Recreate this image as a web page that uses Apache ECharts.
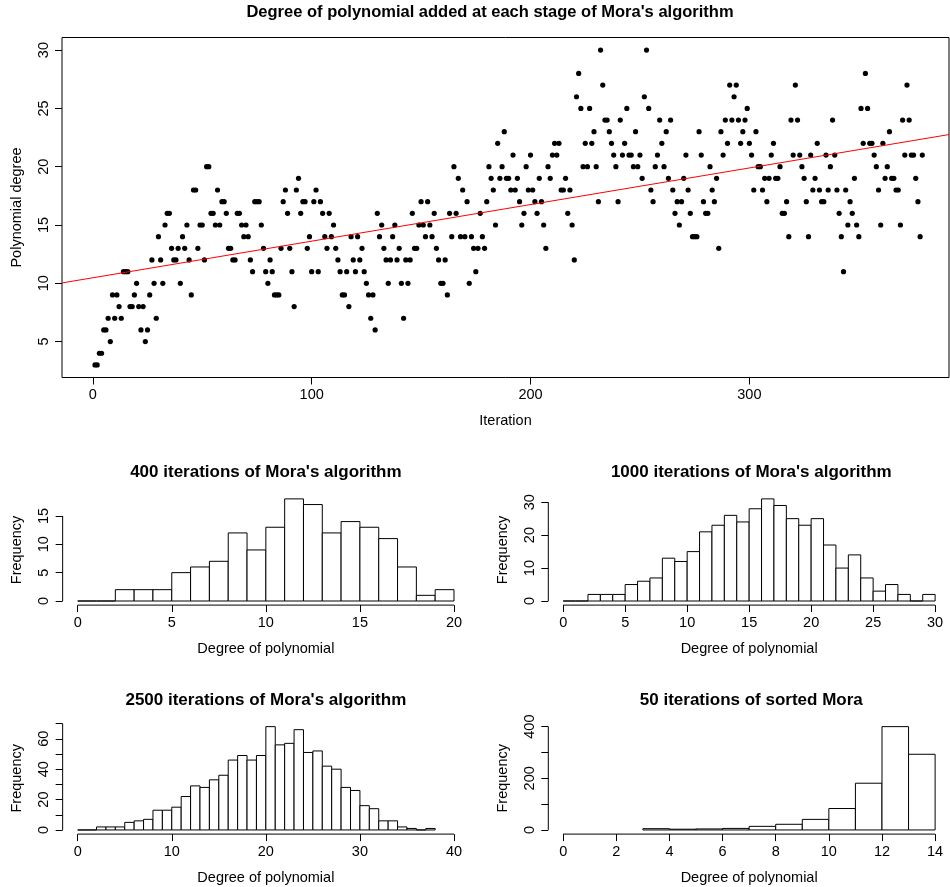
<!DOCTYPE html>
<html>
<head>
<meta charset="utf-8">
<script src="https://cdn.jsdelivr.net/npm/echarts@6/dist/echarts.min.js"></script>
<style>
  html, body { margin: 0; padding: 0; background: #fff; }
  #chart { width: 950px; height: 887px; }
</style>
</head>
<body>
<div id="chart"></div>
<script>
// degree of the polynomial added at iteration 1, 2, 3, ...
var degrees = [
  3,3,4,4,6,6,7,5,9,7,
  9,8,7,11,11,11,8,8,9,10,
  8,6,8,5,6,9,12,10,7,14,
  12,10,15,16,16,13,12,12,13,10,
  14,13,15,12,9,18,18,13,15,15,
  12,20,20,16,16,15,18,15,17,17,
  16,13,13,12,12,16,16,15,14,15,
  14,12,11,17,17,17,15,13,11,10,
  12,11,9,9,9,13,17,18,16,13,
  11,8,18,19,16,17,17,13,14,11,
  17,18,11,17,16,14,13,16,14,15,
  13,12,11,9,9,11,8,14,12,11,
  14,12,13,11,10,9,7,9,6,16,
  14,15,13,12,10,12,14,15,12,13,
  10,7,12,10,12,16,13,13,15,17,
  15,14,17,15,14,16,13,12,10,10,
  12,9,16,14,20,16,19,14,18,14,
  17,10,14,13,11,13,16,14,13,17,
  20,19,18,15,22,19,20,23,19,19,
  18,21,18,19,17,15,16,20,18,21,
  18,17,16,19,17,15,13,20,19,21,
  22,21,22,18,18,19,16,18,15,12,
  26,28,25,20,22,20,25,22,23,20,
  17,30,27,24,24,23,22,21,20,17,
  24,21,22,25,21,21,20,23,20,21,
  19,26,30,25,18,17,20,21,24,22,
  20,23,19,24,18,16,17,15,17,19,
  21,18,16,14,14,14,23,21,17,16,
  16,20,18,17,19,13,23,21,24,22,
  27,24,26,27,24,22,23,24,25,22,
  21,18,23,20,20,18,19,17,19,21,
  22,19,19,20,16,16,17,14,24,21,
  27,24,21,20,19,17,14,21,18,19,
  22,18,17,17,21,18,20,24,21,18,
  16,14,11,18,15,17,16,19,15,14,
  25,22,28,25,22,22,21,20,18,15,
  22,19,20,23,19,19,18,18,15,24,
  21,27,24,21,21,19,17,14,21
];
var mainXTicks = [0, 100, 200, 300];
var mainYTicks = [5, 10, 15, 20, 25, 30];

// histogram counts, unit-width bins starting at the given break
var hist400Start = 0;
var hist400Counts = [0,0,2,2,2,5,6,7,12,9,13,18,17,12,14,13,11,6,1,2];
var hist1000Start = 0;
var hist1000Counts = [0,0,2,2,2,5,6,7,13,12,15,21,23,26,24,28,31,29,25,23,25,17,10,14,7,3,5,2,0,2];
var hist2500Start = 0;
var hist2500Counts = [0,0,2,2,2,5,6,7,13,13,15,22,29,28,33,36,46,49,46,49,68,56,57,66,51,52,42,40,28,26,16,14,6,6,2,1,0,1];
var sortedStart = 3;
var sortedCounts = [5,3,4,6,14,22,41,83,181,400,293];

var hist400XTicks = [0, 5, 10, 15, 20];
var hist400YTicks = [0, 5, 10, 15];
var hist1000XTicks = [0, 5, 10, 15, 20, 25, 30];
var hist1000YTicks = [0, 10, 20, 30];
var hist2500XTicks = [0, 10, 20, 30, 40];
var hist2500YTicks = [0, 10, 20, 30, 40, 50, 60, 70];
var hist2500YLabels = [0, 20, 40, 60];
var sortedXTicks = [0, 2, 4, 6, 8, 10, 12, 14];
var sortedYTicks = [0, 100, 200, 300, 400];
var sortedYLabels = [0, 200, 400];

var FONT = 'Liberation Sans';
var LABEL_SIZE = 14.5;

// least squares line, like abline(lm(degree ~ iteration))
function fitLine(ys) {
  var n = ys.length, sx = 0, sy = 0, sxx = 0, sxy = 0;
  for (var i = 0; i < n; i++) {
    var x = i + 1;
    sx += x; sy += ys[i]; sxx += x * x; sxy += x * ys[i];
  }
  var b = (n * sxy - sx * sy) / (n * sxx - sx * sx);
  return { a: (sy - b * sx) / n, b: b };
}

function binData(start, counts) {
  return counts.map(function (c, i) { return [start + i, start + i + 1, c]; });
}

function renderBar(params, api) {
  var p0 = api.coord([api.value(0), 0]);
  var p1 = api.coord([api.value(1), api.value(2)]);
  return {
    type: 'rect',
    shape: { x: p0[0], y: p1[1], width: p1[0] - p0[0], height: p0[1] - p1[1] },
    style: { fill: '#fff', stroke: '#000', lineWidth: 1 }
  };
}

var chart = echarts.init(document.getElementById('chart'));

var panels = [
  { title: "400 iterations of Mora's algorithm", left: 62.65, width: 406.4, top: 494.8, height: 110.3,
    xMin: -0.8, xMax: 20.8, yMin: -0.72, yMax: 18.72,
    xTicks: hist400XTicks, yTicks: hist400YTicks, yLabels: hist400YTicks, start: hist400Start, counts: hist400Counts },
  { title: "1000 iterations of Mora's algorithm", left: 548.3, width: 406, top: 494.8, height: 110.3,
    xMin: -1.2, xMax: 31.2, yMin: -1.24, yMax: 32.24,
    xTicks: hist1000XTicks, yTicks: hist1000YTicks, yLabels: hist1000YTicks, start: hist1000Start, counts: hist1000Counts },
  { title: "2500 iterations of Mora's algorithm", left: 62.65, width: 406.4, top: 722.5, height: 111.6,
    xMin: -1.6, xMax: 41.6, yMin: -2.72, yMax: 70.72,
    xTicks: hist2500XTicks, yTicks: hist2500YTicks, yLabels: hist2500YLabels, start: hist2500Start, counts: hist2500Counts },
  { title: "50 iterations of sorted Mora", left: 548.3, width: 406, top: 722.5, height: 111.6,
    xMin: -0.56, xMax: 14.56, yMin: -16, yMax: 416,
    xTicks: sortedXTicks, yTicks: sortedYTicks, yLabels: sortedYLabels, start: sortedStart, counts: sortedCounts }
];

var labelStyle = { color: '#000', fontFamily: FONT, fontSize: LABEL_SIZE };
var tickStyle = { color: '#000', width: 1 };

var mainXMin = -14.07, mainXMax = 391.2;
var fit = fitLine(degrees);

var titles = [{
  text: "Degree of polynomial added at each stage of Mora's algorithm",
  left: 490, top: 4, textAlign: 'center', padding: 0,
  textStyle: { color: '#000', fontFamily: FONT, fontSize: 16.5, fontWeight: 'bold' }
}];
var grids = [{ left: 62, top: 37.5, width: 887, height: 340, show: true, borderColor: '#000', borderWidth: 1, backgroundColor: 'transparent' }];
var xAxes = [{
  gridIndex: 0, type: 'value', min: mainXMin, max: mainXMax,
  axisLine: { show: false, onZero: false }, splitLine: { show: false },
  axisTick: { customValues: mainXTicks, length: 7, lineStyle: tickStyle },
  axisLabel: Object.assign({ customValues: mainXTicks, margin: 10 }, labelStyle),
  name: 'Iteration', nameLocation: 'middle', nameGap: 36, nameTextStyle: labelStyle
}];
var yAxes = [{
  gridIndex: 0, type: 'value', min: 1.92, max: 31.08,
  axisLine: { show: false, onZero: false }, splitLine: { show: false },
  axisTick: { customValues: mainYTicks, length: 7, lineStyle: tickStyle },
  axisLabel: Object.assign({ customValues: mainYTicks, margin: 11, rotate: 90 }, labelStyle),
  name: 'Polynomial degree', nameLocation: 'middle', nameGap: 38, nameTextStyle: labelStyle
}];
var series = [
  {
    type: 'scatter', xAxisIndex: 0, yAxisIndex: 0, symbolSize: 5.2, silent: true,
    itemStyle: { color: '#000', opacity: 1 },
    data: degrees.map(function (d, i) { return [i + 1, d]; })
  },
  {
    type: 'line', xAxisIndex: 0, yAxisIndex: 0, symbol: 'none', silent: true,
    lineStyle: { color: '#ff0000', width: 1 },
    data: [[mainXMin, fit.a + fit.b * mainXMin], [mainXMax, fit.a + fit.b * mainXMax]]
  }
];

panels.forEach(function (p, k) {
  var g = k + 1;
  titles.push({
    text: p.title, left: p.left + p.width / 2, top: p.top - 30.5, textAlign: 'center', padding: 0,
    textStyle: { color: '#000', fontFamily: FONT, fontSize: 17, fontWeight: 'bold' }
  });
  grids.push({ left: p.left, top: p.top, width: p.width, height: p.height });
  xAxes.push({
    gridIndex: g, type: 'value', min: p.xMin, max: p.xMax,
    axisLine: { show: false, onZero: false }, splitLine: { show: false },
    axisTick: { customValues: p.xTicks, length: 7, lineStyle: tickStyle },
    axisLabel: Object.assign({ customValues: p.xTicks, margin: 10 }, labelStyle),
    name: 'Degree of polynomial', nameLocation: 'middle', nameGap: 36, nameTextStyle: labelStyle
  });
  yAxes.push({
    gridIndex: g, type: 'value', min: p.yMin, max: p.yMax,
    axisLine: { show: false, onZero: false }, splitLine: { show: false },
    axisTick: { customValues: p.yTicks, length: 7, lineStyle: tickStyle },
    axisLabel: Object.assign({ customValues: p.yLabels, margin: 11, rotate: 90 }, labelStyle),
    name: 'Frequency', nameLocation: 'middle', nameGap: 38, nameTextStyle: labelStyle
  });
  series.push({
    type: 'custom', xAxisIndex: g, yAxisIndex: g, silent: true, clip: false,
    encode: { x: [0, 1], y: 2 },
    renderItem: renderBar,
    data: binData(p.start, p.counts)
  });
  // R-style axis lines running only from the first to the last tick
  var xt = p.xTicks, yt = p.yTicks;
  series.push({
    type: 'line', xAxisIndex: g, yAxisIndex: g, symbol: 'none', silent: true, clip: false,
    lineStyle: { color: '#000', width: 1 },
    data: [[xt[0], p.yMin], [xt[xt.length - 1], p.yMin]]
  });
  series.push({
    type: 'line', xAxisIndex: g, yAxisIndex: g, symbol: 'none', silent: true, clip: false,
    lineStyle: { color: '#000', width: 1 },
    data: [[p.xMin, yt[0]], [p.xMin, yt[yt.length - 1]]]
  });
});

chart.setOption({
  animation: false,
  backgroundColor: '#fff',
  title: titles,
  grid: grids,
  xAxis: xAxes,
  yAxis: yAxes,
  series: series
});
</script>
</body>
</html>
